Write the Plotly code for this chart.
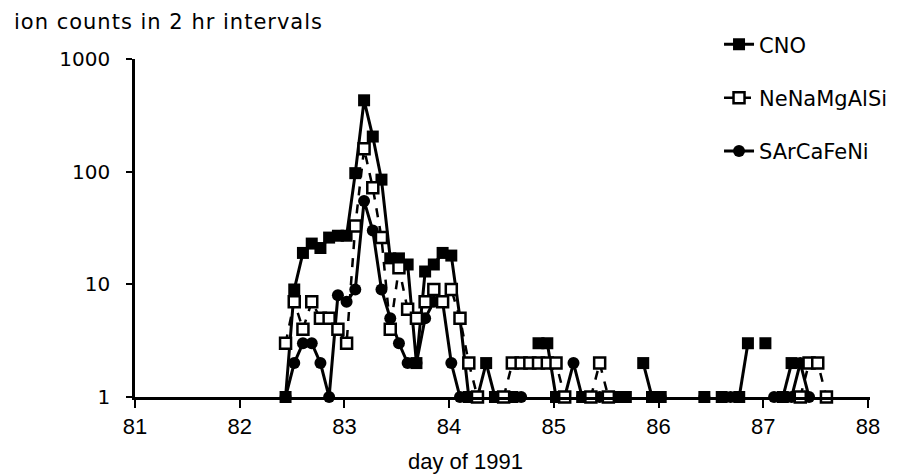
import plotly.graph_objects as go

# 2-hour interval centres (day of 1991)
days = [82.438, 82.521, 82.604, 82.688, 82.771, 82.854, 82.938, 83.021, 83.104, 83.188,
        83.271, 83.354, 83.438, 83.521, 83.604, 83.688, 83.771, 83.854, 83.938, 84.021,
        84.104, 84.188, 84.271, 84.354, 84.438, 84.521, 84.604, 84.688, 84.771, 84.854,
        84.938, 85.021, 85.104, 85.188, 85.271, 85.354, 85.438, 85.521, 85.604, 85.688,
        85.771, 85.854, 85.938, 86.021, 86.104, 86.188, 86.271, 86.354, 86.438, 86.521,
        86.604, 86.688, 86.771, 86.854, 86.938, 87.021, 87.104, 87.188, 87.271, 87.354,
        87.438, 87.521, 87.604, 87.688, 87.771, 87.854, 87.938, 88.021]

N = None
# counts per interval (None = no counts)
cno = [1, 9, 19, 23, 21, 26, 27, 27, 97, 430,
       205, 85, 17, 17, 15, 2, 13, 15, 19, 18,
       5, 1, 1, 2, 1, 1, 1, N, N, 3,
       3, 1, 1, N, 1, 1, N, 1, 1, 1,
       N, 2, 1, 1, N, N, N, N, 1, N,
       1, N, 1, 3, N, 3, N, 1, 2, N,
       N, N, N, N, N, N, N, 1]

nenamg = [3, 7, 4, 7, 5, 5, 4, 3, 33, 160,
          72, 26, 4, 14, 6, 5, 7, 9, 7, 9,
          5, 2, 1, N, N, 1, 2, 2, 2, 2,
          2, 2, 1, N, N, 1, 2, 1, N, N,
          N, N, N, N, N, N, N, N, N, N,
          N, N, N, N, N, N, N, N, N, 1,
          2, 2, 1, N, N, N, N, N]

sarca = [1, 2, 3, 3, 2, 1, 8, 7, 9, 55,
         30, 9, 5, 3, 2, 2, 5, 7, 7, 2,
         1, 1, N, N, N, N, N, 1, N, N,
         N, N, 1, 2, 1, N, 1, N, N, N,
         N, N, N, 1, N, N, N, N, 1, N,
         N, 1, N, N, N, N, 1, N, 1, 2,
         1, N, N, N, N, N, N, N]

x_ticks = [81, 82, 83, 84, 85, 86, 87, 88]
y_ticks = [1, 10, 100, 1000]
y_labels = ["1", "10", "100", "1000"]

WIDE = "DejaVu Sans, Verdana, sans-serif"
NARROW = "Liberation Sans Narrow, Arial Narrow, Liberation Sans, sans-serif"

fig = go.Figure()

fig.add_trace(go.Scatter(
    x=days, y=sarca, name="SArCaFeNi", mode="lines+markers",
    line=dict(color="black", width=3), connectgaps=False,
    marker=dict(symbol="circle", size=12, color="black"),
    cliponaxis=False, legendrank=3, legendgroup="c"))

fig.add_trace(go.Scatter(
    x=days, y=cno, name="CNO", mode="lines+markers",
    line=dict(color="black", width=3), connectgaps=False,
    marker=dict(symbol="square", size=12, color="black"),
    cliponaxis=False, legendrank=1, legendgroup="a"))

fig.add_trace(go.Scatter(
    x=days, y=nenamg, name="NeNaMgAlSi", mode="lines+markers",
    line=dict(color="black", width=2.5, dash="dash"), connectgaps=False,
    marker=dict(symbol="square", size=11, color="white",
                line=dict(color="black", width=2.5)),
    cliponaxis=False, legendrank=2, legendgroup="b"))

fig.update_layout(
    width=916, height=475,
    margin=dict(l=135, r=46, t=59, b=78),
    paper_bgcolor="white", plot_bgcolor="white",
    font=dict(family=WIDE, size=20, color="black"),
    showlegend=True,
    legend=dict(x=0.7946, y=1.103, xanchor="left", yanchor="top",
                font=dict(family=WIDE, size=21), tracegroupgap=23,
                bgcolor="rgba(0,0,0,0)", itemwidth=30),
    xaxis=dict(range=[81, 88.02], tickvals=x_ticks, showgrid=False, zeroline=False,
               showline=True, linecolor="black", linewidth=2.5,
               ticks="outside", ticklen=8, tickwidth=2, tickcolor="black",
               tickfont=dict(family=NARROW, size=22)),
    yaxis=dict(type="log", range=[0, 3], tickvals=y_ticks, ticktext=y_labels,
               showgrid=False, zeroline=False, showline=True, linecolor="black",
               linewidth=2.5, ticks="outside", ticklen=6, tickwidth=2,
               tickcolor="black", ticklabelstandoff=12,
               tickfont=dict(family=WIDE, size=20)),
    annotations=[
        dict(text='<span style="letter-spacing:1px">ion counts in 2 hr intervals</span>',
             xref="paper", yref="paper",
             x=-0.167, y=1.109, xanchor="left", yanchor="middle", showarrow=False,
             font=dict(family=WIDE, size=21)),
        dict(text="day of 1991", xref="paper", yref="paper",
             x=0.45, y=-0.192, xanchor="center", yanchor="middle", showarrow=False,
             font=dict(family=NARROW, size=22)),
    ],
)

fig.write_html("out.html")
